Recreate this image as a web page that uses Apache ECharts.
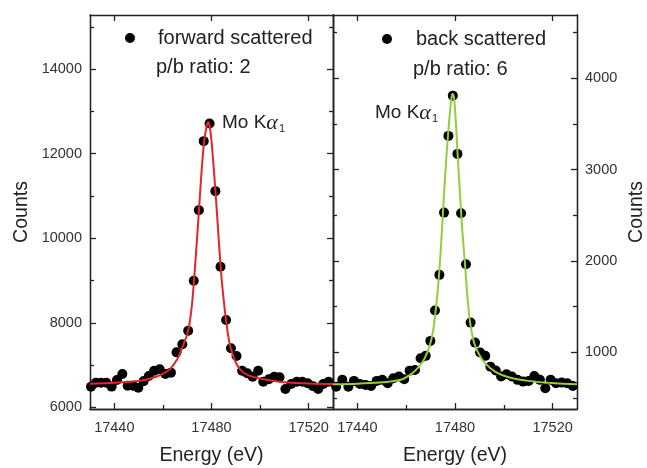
<!DOCTYPE html>
<html>
<head>
<meta charset="utf-8">
<script src="https://cdn.jsdelivr.net/npm/echarts@6/dist/echarts.min.js"></script>
<style>
  html, body { margin: 0; padding: 0; background: #fff; }
  #chart { width: 647px; height: 468px; }
</style>
</head>
<body>
<div id="chart"></div>
<script>
// Forward scattered spectrum (measured points)
const fwdEnergy = [17430.4, 17432.4, 17434.5, 17436.7, 17438.9, 17441.1, 17443.3, 17445.5, 17447.7, 17449.9,
  17452.1, 17454.2, 17456.4, 17458.7, 17461.0, 17463.3, 17465.6, 17468.0, 17470.4, 17472.7,
  17474.8, 17476.8, 17479.2, 17481.6, 17483.7, 17486.0, 17488.0, 17490.3, 17492.6, 17494.7,
  17496.9, 17499.2, 17501.3, 17503.6, 17505.8, 17508.0, 17510.4, 17512.8, 17515.1, 17517.4,
  17519.6, 17521.8, 17523.9, 17526.0, 17528.2];
const fwdCounts = [6487, 6580, 6580, 6580, 6490, 6645, 6790, 6510, 6510, 6465,
  6620, 6740, 6865, 6900, 6787, 6820, 7300, 7490, 7810, 8993,
  10664, 12296, 12714, 11113, 9324, 8064, 7395, 7213, 6865, 6804,
  6723, 6865, 6605, 6662, 6723, 6709, 6433, 6550, 6605, 6605,
  6567, 6500, 6433, 6550, 6605];

// Forward scattered fit curve
const fwdFitEnergy = [17430, 17440, 17450, 17455, 17460, 17463, 17466, 17468, 17470, 17471,
  17472, 17473, 17474, 17475, 17476, 17477, 17478, 17478.6, 17479.2, 17480,
  17481, 17482, 17483, 17484, 17485, 17486, 17487, 17488, 17490, 17492,
  17495, 17500, 17505, 17510, 17520, 17530];
const fwdFitCounts = [6555, 6580, 6620, 6680, 6790, 6910, 7150, 7420, 7730, 8000,
  8450, 9150, 9950, 10800, 11650, 12300, 12650, 12750, 12660, 12300,
  11600, 10800, 9950, 9150, 8550, 8050, 7650, 7380, 7060, 6880,
  6760, 6680, 6630, 6595, 6565, 6550];

// Back scattered spectrum (measured points)
const backEnergy = [17431.3, 17433.8, 17436.3, 17438.6, 17441.0, 17443.3, 17445.6, 17447.9, 17450.2, 17452.4,
  17454.7, 17457.0, 17459.2, 17461.4, 17463.6, 17465.9, 17468.0, 17469.9, 17471.8, 17473.6,
  17475.5, 17477.3, 17479.1, 17481.0, 17482.5, 17484.5, 17486.4, 17488.2, 17490.3, 17492.4,
  17494.5, 17496.7, 17498.9, 17501.1, 17503.3, 17505.6, 17507.9, 17510.2, 17512.5, 17514.8,
  17517.0, 17519.2, 17521.4, 17523.7, 17526.0, 17528.3];
const backCounts = [623, 697, 623, 686, 653, 642, 630, 686, 697, 660,
  715, 733, 704, 798, 806, 934, 960, 1124, 1456, 1847,
  2529, 3369, 3810, 3172, 2522, 1964, 1324, 1105, 996, 960,
  842, 800, 733, 759, 733, 697, 678, 686, 740, 697,
  606, 697, 660, 667, 660, 631];

// Back scattered fit curve
const backFitEnergy = [17430, 17440, 17449, 17455, 17458.5, 17462, 17464, 17466, 17467.5, 17469.5,
  17471, 17472, 17473, 17474, 17475, 17476, 17477, 17478, 17478.6, 17479.1,
  17479.7, 17480.5, 17481, 17482, 17483, 17484, 17485, 17486, 17487, 17488,
  17490, 17492.3, 17496.4, 17502, 17510, 17521, 17530];
const backFitCounts = [648, 655, 667, 685, 704, 760, 806, 870, 930, 1061,
  1230, 1440, 1700, 2050, 2500, 2950, 3330, 3650, 3790, 3830,
  3760, 3450, 3200, 2750, 2330, 2000, 1640, 1360, 1200, 1090,
  970, 880, 788, 726, 686, 660, 650];

// Tick positions
const xMajorTicks = [17440, 17480, 17520];
const xMinorTicks = [17460, 17500];
const fwdMajorTicks = [6000, 8000, 10000, 12000, 14000];
const fwdMinorTicks = [7000, 9000, 11000, 13000, 15000];
const backMajorTicks = [1000, 2000, 3000, 4000];
const backMinorTicks = [500, 1500, 2500, 3500, 4500];

const FONT = '"Liberation Sans", Arial, sans-serif';
const INK = '#222';
const LABEL = '#333';

const xRange = [17430, 17530];
const fwdRange = [5960, 15280];
const backRange = [378, 4693];

function zip(xs, ys) { return xs.map((x, i) => [x, ys[i]]); }
const plain = v => String(v);

function axis(gridIndex, position, range, ticks, len, labelOpt, extra) {
  return Object.assign({
    type: 'value',
    gridIndex: gridIndex,
    position: position,
    min: range[0],
    max: range[1],
    axisLine: { show: true, onZero: false, lineStyle: { color: INK, width: 1.3 } },
    axisTick: { show: true, inside: true, length: len, customValues: ticks,
      lineStyle: { color: INK, width: 1.3 } },
    axisLabel: labelOpt ? Object.assign({ show: true, fontFamily: FONT, fontSize: 14.5, color: LABEL, formatter: plain }, labelOpt)
                        : { show: false },
    splitLine: { show: false },
    axisPointer: { show: false }
  }, extra || {});
}

const nameStyle = { fontFamily: FONT, fontSize: 19.5, color: INK };

const xAxes = [
  axis(0, 'bottom', xRange, xMajorTicks, 6, { customValues: xMajorTicks, margin: 11 },
    { name: 'Energy (eV)', nameLocation: 'middle', nameGap: 37, nameTextStyle: nameStyle }),
  axis(0, 'bottom', xRange, xMinorTicks, 4, null),
  axis(0, 'top', xRange, xMajorTicks, 6, null),
  axis(1, 'bottom', xRange, xMajorTicks, 6, { customValues: xMajorTicks, margin: 11 },
    { name: 'Energy (eV)', nameLocation: 'middle', nameGap: 37, nameTextStyle: nameStyle }),
  axis(1, 'bottom', xRange, xMinorTicks, 4, null),
  axis(1, 'top', xRange, xMajorTicks, 6, null)
];

const yAxes = [
  axis(0, 'left', fwdRange, fwdMajorTicks, 6, { customValues: fwdMajorTicks, margin: 8 },
    { name: 'Counts', nameLocation: 'middle', nameGap: 58, nameTextStyle: nameStyle }),
  axis(0, 'left', fwdRange, fwdMinorTicks, 4, null),
  axis(0, 'right', fwdRange, fwdMajorTicks, 6, null),
  axis(0, 'right', fwdRange, fwdMinorTicks, 4, null),
  axis(1, 'right', backRange, backMajorTicks, 6, { customValues: backMajorTicks, margin: 8 },
    { name: 'Counts', nameLocation: 'middle', nameGap: 50, nameTextStyle: nameStyle }),
  axis(1, 'right', backRange, backMinorTicks, 4, null),
  axis(1, 'left', backRange, backMajorTicks, 6, null),
  axis(1, 'left', backRange, backMinorTicks, 4, null)
];

const textFont = { fontFamily: FONT, fontSize: 20, fill: INK };

function peakLabel(x, y) {
  return {
    type: 'text', x: x, y: y, z: 10,
    style: {
      text: '{a|Mo K}{g|α}{s|1}',
      verticalAlign: 'middle',
      rich: {
        a: { fontFamily: FONT, fontSize: 19, fill: INK, lineHeight: 22 },
        g: { fontFamily: '"Liberation Serif", serif', fontStyle: 'italic', fontSize: 22, fill: INK, lineHeight: 22 },
        s: { fontFamily: FONT, fontSize: 11, fill: INK, verticalAlign: 'bottom', lineHeight: 22, padding: [0, 0, 0, 1] }
      }
    }
  };
}

const chart = echarts.init(document.getElementById('chart'), null, { renderer: 'canvas' });

chart.setOption({
  animation: false,
  backgroundColor: '#fff',
  grid: [
    { left: 90, top: 15, width: 243, height: 394, outerBoundsMode: 'none' },
    { left: 333, top: 15, width: 244, height: 394, outerBoundsMode: 'none' }
  ],
  xAxis: xAxes,
  yAxis: yAxes,
  legend: [
    { data: ['forward scattered'], left: 125, top: 28, padding: 0, selectedMode: false,
      icon: 'circle', itemWidth: 10, itemHeight: 10,
      textStyle: { fontFamily: FONT, fontSize: 20, color: INK, padding: [0, 0, 0, 18] } },
    { data: ['back scattered'], left: 382, top: 29, padding: 0, selectedMode: false,
      icon: 'circle', itemWidth: 10, itemHeight: 10,
      textStyle: { fontFamily: FONT, fontSize: 20, color: INK, padding: [0, 0, 0, 19] } }
  ],
  graphic: [
    { type: 'text', x: 156, y: 67, z: 10,
      style: Object.assign({ text: 'p/b ratio: 2', verticalAlign: 'middle' }, textFont) },
    { type: 'text', x: 413, y: 69, z: 10,
      style: Object.assign({ text: 'p/b ratio: 6', verticalAlign: 'middle' }, textFont) },
    peakLabel(222, 123),
    peakLabel(375, 113)
  ],
  series: [
    { name: 'forward scattered', type: 'scatter', xAxisIndex: 0, yAxisIndex: 0,
      data: zip(fwdEnergy, fwdCounts), symbol: 'circle', symbolSize: 10,
      itemStyle: { color: '#000', opacity: 1 }, z: 2 },
    { name: 'forward fit', type: 'line', xAxisIndex: 0, yAxisIndex: 0,
      data: zip(fwdFitEnergy, fwdFitCounts), showSymbol: false, smooth: 0.3,
      lineStyle: { color: '#e3262d', width: 2 }, z: 3 },
    { name: 'back scattered', type: 'scatter', xAxisIndex: 3, yAxisIndex: 4,
      data: zip(backEnergy, backCounts), symbol: 'circle', symbolSize: 10,
      itemStyle: { color: '#000', opacity: 1 }, z: 2 },
    { name: 'back fit', type: 'line', xAxisIndex: 3, yAxisIndex: 4,
      data: zip(backFitEnergy, backFitCounts), showSymbol: false, smooth: 0.3,
      lineStyle: { color: '#96cd3a', width: 2 }, z: 3 }
  ]
});
</script>
</body>
</html>
